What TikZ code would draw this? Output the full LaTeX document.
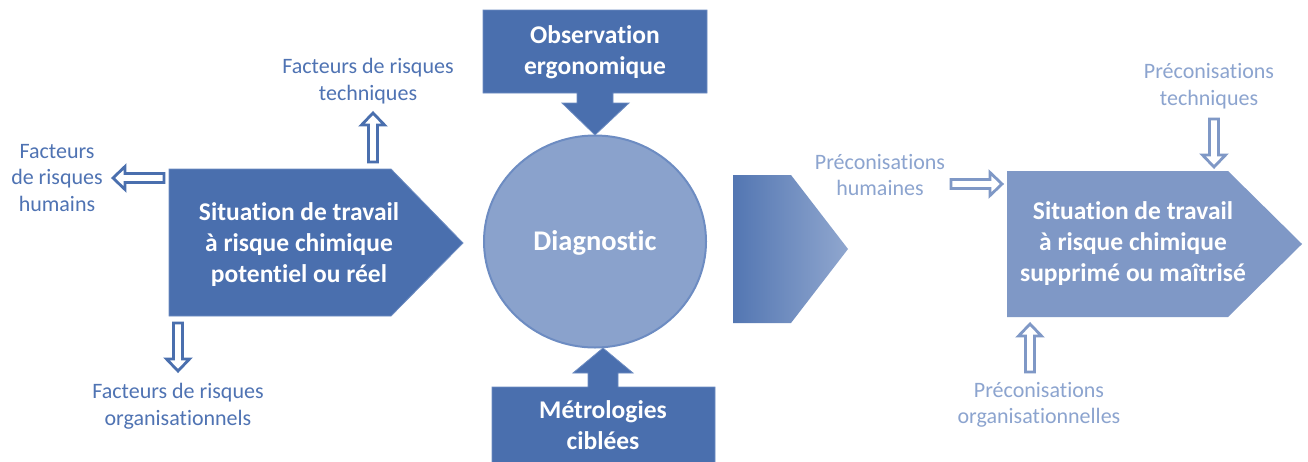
\documentclass[tikz,border=0pt]{standalone}
\usepackage{fontspec}
\setmainfont{Carlito}[Ligatures=NoCommon]
\usetikzlibrary{calc}
\definecolor{bluedark}{HTML}{4A6FAE}
\definecolor{blueedge}{HTML}{6D8CC2}
\definecolor{bluemid}{HTML}{8AA2CC}
\definecolor{bluelight}{HTML}{7F98C6}
\definecolor{labeldark}{HTML}{4F73B3}
\definecolor{labellight}{HTML}{8CA4CF}

\begin{document}
\begin{tikzpicture}[x=1pt, y=-1pt,
    title/.style={text=white, font=\fontsize{25.5}{31}\selectfont\bfseries, align=center},
    factor/.style={text=labeldark, font=\fontsize{22}{26.5}\selectfont, align=center},
    advice/.style={factor, text=labellight},
    hollow/.style={draw=#1, fill=white, line width=2.8pt, line join=miter,
      to path={let \p1=($(\tikztotarget)-(\tikztostart)$), \n1={atan2(\y1,\x1)}, \n3={veclen(\x1,\y1)-12pt} in
        -- ++(\n1+90:4.5pt) -- ++(\n1:\n3) -- ++(\n1+90:7pt) -- (\tikztotarget)
        -- ($(\tikztotarget)+(\n1:-12pt)+(\n1-90:11.5pt)$) -- ++(\n1+90:7pt)
        -- ($(\tikztostart)+(\n1-90:4.5pt)$) -- cycle}}
    ]
    \useasboundingbox (0,0) rectangle (1308,461);
    \fill[white] (0,0) rectangle (1308,461);
    % Shapes
    \filldraw[fill=bluedark, draw=blueedge, line width=0.8pt]
      (169,169) -- (391,169) -- (463,243) -- (391,316) -- (169,316) -- cycle;
    \filldraw[fill=bluemid, draw=blueedge, line width=2pt] (595,241.5) ellipse [x radius=111pt, y radius=106pt];
    \filldraw[fill=bluedark, draw=blueedge, line width=0.8pt]
      (483,10) -- (707,10) -- (707,93) -- (613,93) -- (613,103) -- (629,103) -- (595,135)
      -- (562,103) -- (577,103) -- (577,93) -- (483,93) -- cycle;
    \filldraw[fill=bluedark, draw=blueedge, line width=0.8pt]
      (492,470) -- (492,387) -- (588,387) -- (588,373) -- (573,373) -- (603,348)
      -- (633,373) -- (618,373) -- (618,387) -- (715,387) -- (715,470);
    \shade[left color=bluedark!95!white, right color=bluemid!95!white]
      (733,175) -- (791,175) -- (848,249) -- (791,323) -- (733,323) -- cycle;
    \fill[bluelight] (1007,171) -- (1228,171) -- (1302,244) -- (1228,317) -- (1007,317) -- cycle;
    % Nodes
    \node[title] (before) at (299,245) {Situation de travail\\à risque chimique\\potentiel ou réel};
    \node[title, font=\fontsize{28.5}{34}\selectfont\bfseries] (diag) at (595,243) {Diagnostic};
    \node[title] (obs) at (595,52) {Observation\\ergonomique};
    \node[title] (metro) at (603,425) {Métrologies\\ciblées};
    \node[title] (after) at (1133,244) {Situation de travail\\à risque chimique\\supprimé ou maîtrisé};
    \node[factor] (ftech) at (368,81) {Facteurs de risques\\techniques};
    \node[factor] (fhum) at (57,178) {Facteurs\\de risques\\humains};
    \node[factor] (forg) at (178,406) {Facteurs de risques\\organisationnels};
    \node[advice] (phum) at (880,175) {Préconisations\\humaines};
    \node[advice] (ptech) at (1209,86) {Préconisations\\techniques};
    \node[advice] (porg) at (1039,405) {Préconisations\\organisationnelles};
    % Arrow ends
    \coordinate (ftech-tail) at (373,162);
    \coordinate (ftech-tip) at (373,113);
    \coordinate (fhum-tail) at (164,178);
    \coordinate (fhum-tip) at (113,178);
    \coordinate (forg-tail) at (178,323);
    \coordinate (forg-tip) at (178,371);
    \coordinate (phum-tail) at (951,184);
    \coordinate (phum-tip) at (1002,184);
    \coordinate (ptech-tail) at (1214,119);
    \coordinate (ptech-tip) at (1214,167);
    \coordinate (porg-tail) at (1030,372);
    \coordinate (porg-tip) at (1030,324);
    % Edges
    \draw[hollow=bluedark] (ftech-tail) to (ftech-tip);
    \draw[hollow=bluedark] (fhum-tail) to (fhum-tip);
    \draw[hollow=bluedark] (forg-tail) to (forg-tip);
    \draw[hollow=bluelight] (phum-tail) to (phum-tip);
    \draw[hollow=bluelight] (ptech-tail) to (ptech-tip);
    \draw[hollow=bluelight] (porg-tail) to (porg-tip);
\end{tikzpicture}
\end{document}
